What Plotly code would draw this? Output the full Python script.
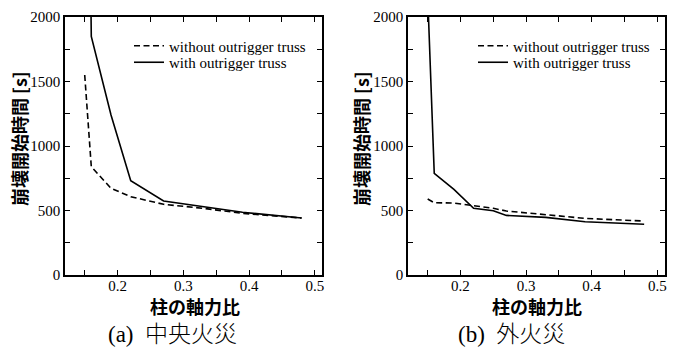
import plotly.graph_objects as go

# ---------------- data ----------------
x_a = [0.15, 0.16, 0.19, 0.22, 0.27, 0.33, 0.39, 0.48]
a_without = [1550, 840, 672, 607, 548, 517, 478, 442]
a_with = [6000, 1850, 1240, 731, 574, 530, 486, 442]

x_b = [0.15, 0.16, 0.19, 0.22, 0.25, 0.27, 0.33, 0.39, 0.48]
b_without = [589, 560, 558, 537, 517, 496, 465, 439, 418]
b_with = [2170, 788, 664, 517, 498, 462, 447, 413, 393]

x_tickvals = [0.15, 0.2, 0.25, 0.3, 0.35, 0.4, 0.45, 0.5]
x_ticktext = ["", "0.2", "", "0.3", "", "0.4", "", "0.5"]
y_tickvals = [0, 250, 500, 750, 1000, 1250, 1500, 1750, 2000]
y_ticktext = ["0", "", "500", "", "1000", "", "1500", "", "2000"]

name_without = "without outrigger truss"
name_with = "with outrigger truss"
ytitle = "崩壊開始時間 [s]"
xtitle = "柱の軸力比"
cap_a = "(a)  中央火災"
cap_b = "(b)  外火災"

W, H = 676, 347
serif = "Liberation Serif"
cjk = "Noto Sans CJK JP"

fig = go.Figure()

def add_pair(x, y_wo, y_w, xa, ya, leg1, leg2):
    fig.add_trace(go.Scatter(x=x, y=y_wo, mode="lines", name=name_without,
                             line=dict(color="black", width=1.6, dash="6px,3.5px"),
                             xaxis=xa, yaxis=ya, legend=leg1))
    fig.add_trace(go.Scatter(x=x, y=y_w, mode="lines", name=name_with,
                             line=dict(color="black", width=1.6),
                             xaxis=xa, yaxis=ya, legend=leg2))

add_pair(x_a, a_without, a_with, "x", "y", "legend", "legend2")
add_pair(x_b, b_without, b_with, "x2", "y2", "legend3", "legend4")

ydom = [1 - 275 / H, 1 - 17 / H]
dom_a = [65 / W, 322 / W]
dom_b = [408 / W, 664.5 / W]

common = dict(ticks="inside", ticklen=5, tickwidth=1.2, tickcolor="black",
              showline=True, linecolor="black", linewidth=1.5, mirror="ticks",
              showgrid=False, zeroline=False,
              tickfont=dict(family=serif, size=15, color="black"))
xcommon = dict(range=[0.12, 0.511], tickmode="array", tickvals=x_tickvals, ticktext=x_ticktext,
               ticklabelstandoff=-4, **common)
ycommon = dict(range=[0, 2000], tickmode="array", tickvals=y_tickvals, ticktext=y_ticktext,
               **common)

legfont = dict(family=serif, size=15, color="black")
def leg(xpx, ypx):
    return dict(x=xpx / W, y=1 - ypx / H, xanchor="left", yanchor="middle",
                bgcolor="rgba(0,0,0,0)", itemwidth=30, font=legfont)

fig.update_layout(
    width=W, height=H,
    margin=dict(l=0, r=0, t=0, b=0, autoexpand=False),
    paper_bgcolor="white", plot_bgcolor="white",
    xaxis=dict(domain=dom_a, anchor="y", **xcommon),
    yaxis=dict(domain=ydom, anchor="x", **ycommon),
    xaxis2=dict(domain=dom_b, anchor="y2", **xcommon),
    yaxis2=dict(domain=ydom, anchor="x2", **ycommon),
    legend=leg(129, 46),
    legend2=leg(129, 62.5),
    legend3=leg(473, 46),
    legend4=leg(473, 62.5),
    showlegend=True,
)

annots = [
    dict(x=19 / W, y=1 - 139 / H, text=ytitle, textangle=-90),
    dict(x=361 / W, y=1 - 139 / H, text=ytitle, textangle=-90),
    dict(x=195 / W, y=1 - 306 / H, text=xtitle),
    dict(x=537 / W, y=1 - 306 / H, text=xtitle),
]
for a in annots:
    fig.add_annotation(xref="paper", yref="paper", showarrow=False,
                       xanchor="center", yanchor="middle",
                       font=dict(family=cjk, size=18, color="black", weight="bold"), **a)

for txt, cx in [(cap_a, 173), (cap_b, 511)]:
    fig.add_annotation(xref="paper", yref="paper", showarrow=False,
                       x=cx / W, y=1 - 334 / H, xanchor="center", yanchor="middle",
                       text=txt, font=dict(family=serif + ", " + cjk, size=23, color="black", weight=300))

fig.write_html("out.html",
               config={"displayModeBar": False},
               post_script="document.body.style.margin='0';document.body.style.overflow='hidden';")
